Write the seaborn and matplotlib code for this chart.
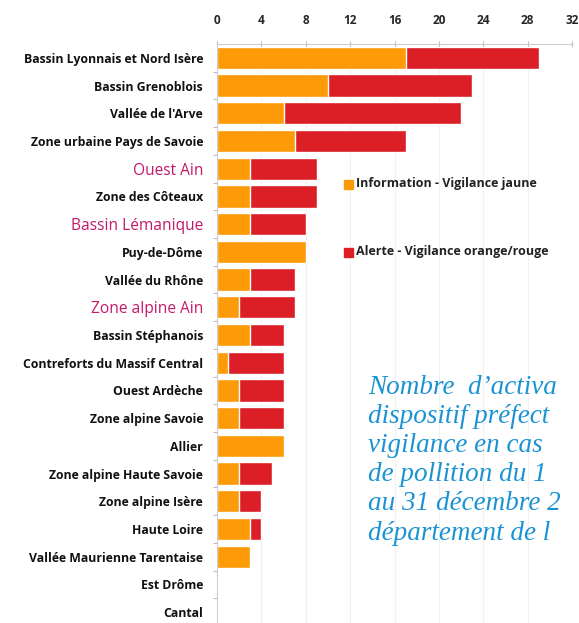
import matplotlib
matplotlib.use("Agg")
import matplotlib.pyplot as plt
import seaborn as sns
import pandas as pd
import numpy as np
from matplotlib.patches import Rectangle

categories = [
    "Bassin Lyonnais et Nord Isère", "Bassin Grenoblois", "Vallée de l'Arve",
    "Zone urbaine Pays de Savoie", "Ouest Ain", "Zone des Côteaux",
    "Bassin Lémanique", "Puy-de-Dôme", "Vallée du Rhône", "Zone alpine Ain",
    "Bassin Stéphanois", "Contreforts du Massif Central", "Ouest Ardèche",
    "Zone alpine Savoie", "Allier", "Zone alpine Haute Savoie",
    "Zone alpine Isère", "Haute Loire", "Vallée Maurienne Tarentaise",
    "Est Drôme", "Cantal",
]
information = [17, 10, 6, 7, 3, 3, 3, 8, 3, 2, 3, 1, 2, 2, 6, 2, 2, 3, 3, 0, 0]
alerte = [12, 13, 16, 10, 6, 6, 5, 0, 4, 5, 3, 5, 4, 4, 0, 3, 2, 1, 0, 0, 0]
highlighted = ["Ouest Ain", "Bassin Lémanique", "Zone alpine Ain"]
x_ticks = [0, 4, 8, 12, 16, 20, 24, 28, 32]
legend_labels = ["Information - Vigilance jaune", "Alerte - Vigilance orange/rouge"]
caption_lines = ["Nombre  d’activa", "dispositif préfect", "vigilance en cas",
                 "de pollition du 1", "au 31 décembre 2", "département de l"]

ORANGE = "#fd9a08"
RED = "#dc1e27"
MAGENTA = "#c4186a"
BLUE = "#1b93d3"

df = pd.DataFrame({"cat": categories, "info": information, "alerte": alerte})
df["total"] = df["info"] + df["alerte"]

sns.set_theme(style="white")
plt.rcParams["font.family"] = ["Open Sans", "DejaVu Sans"]

fig = plt.figure(figsize=(5.79, 6.23), dpi=100)
# axes spans from y=44 px (top) to y=627 px (bottom)
top_px, bot_px = 44, 626
ax = fig.add_axes([217 / 579, 1 - bot_px / 623, (572 - 217) / 579, (bot_px - top_px) / 623])

sns.barplot(data=df, x="total", y="cat", color=RED, width=0.8, ax=ax,
            saturation=1, orient="h")
sns.barplot(data=df, x="info", y="cat", color=ORANGE, width=0.8, ax=ax,
            saturation=1, orient="h")

ax.set_xlim(0, 32)
ax.set_ylim(len(categories) - 0.5, -0.5)
ax.set_xlabel("")
ax.set_ylabel("")

ax.xaxis.tick_top()
ax.set_xticks(x_ticks)
ax.set_xticklabels([str(t) for t in x_ticks], fontsize=8.5, fontweight="bold")
ax.tick_params(axis="x", which="major", direction="inout", length=4, width=0.8,
               color="#bbbbbb", pad=10)
ax.grid(axis="x", color="#f0f0f0", linewidth=0.8)
ax.set_axisbelow(True)

ax.set_yticks(range(len(categories)))
ax.set_yticklabels(categories)
ax.set_yticks(np.arange(len(categories)) + 0.5, minor=True)
ax.tick_params(axis="y", which="major", length=0, pad=10)
ax.tick_params(axis="y", which="minor", length=3, width=0.8, color="#bbbbbb",
               left=True, direction="out")
for lab in ax.get_yticklabels():
    if lab.get_text() in highlighted:
        lab.set_color(MAGENTA)
        lab.set_fontsize(11.2)
        lab.set_fontweight("medium")
    else:
        lab.set_color("#111111")
        lab.set_fontsize(8.8)
        lab.set_fontweight("bold")

for side in ["right", "bottom"]:
    ax.spines[side].set_visible(False)
for side in ["top", "left"]:
    ax.spines[side].set_color("#cccccc")
    ax.spines[side].set_linewidth(0.8)

# legend
leg_items = [(ORANGE, legend_labels[0], 184), (RED, legend_labels[1], 252)]
for col, txt, ypx in leg_items:
    fig.patches.append(Rectangle((344 / 579, 1 - (ypx + 4.5) / 623), 9 / 579, 9 / 623,
                                 transform=fig.transFigure, color=col))
    fig.text(356 / 579, 1 - ypx / 623, txt, fontsize=9, fontweight="bold",
             color="#222222", va="center", ha="left")

# caption
for i, line in enumerate(caption_lines):
    fig.text(368 / 579, 1 - (387 + i * 29.2) / 623, line, fontsize=19.5,
             family="Liberation Serif", style="italic", color=BLUE,
             va="center", ha="left")

fig.savefig("out.png", dpi=100)
